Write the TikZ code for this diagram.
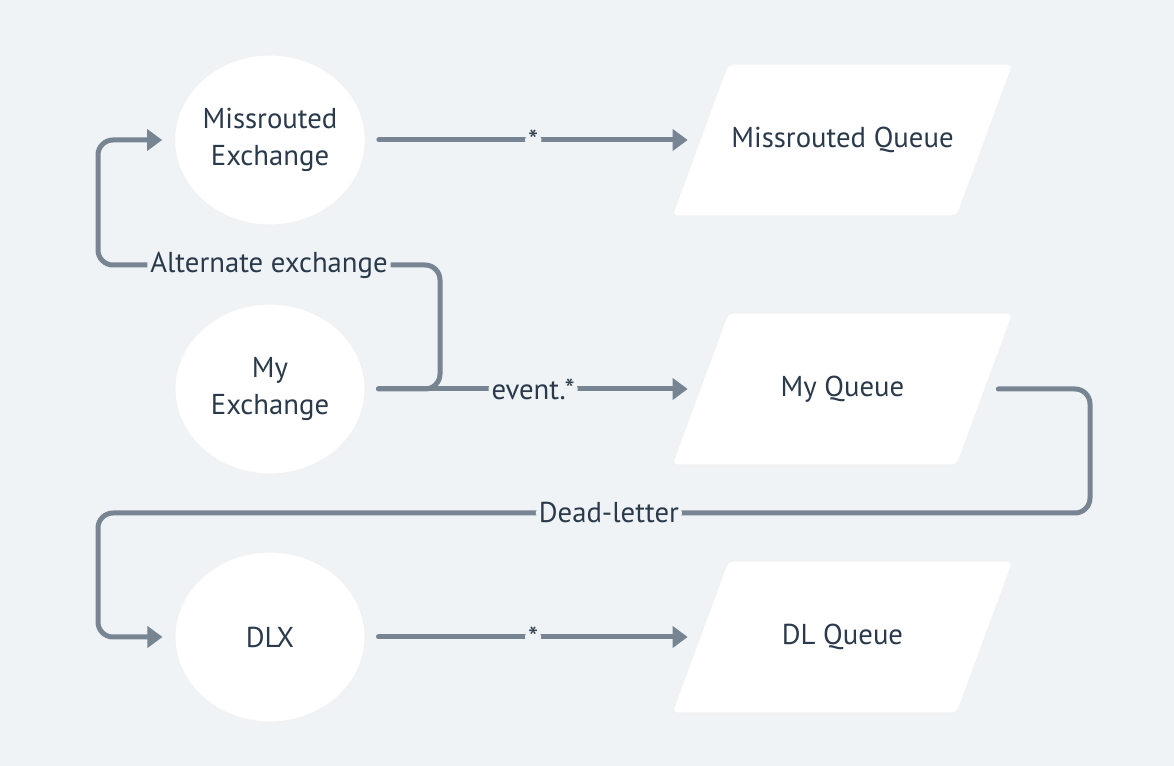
\documentclass[tikz,border=0pt]{standalone}
\usepackage{xcolor}
\usepackage{fontspec}
\setmainfont{PT Sans}
\usepackage{tikz}
\usetikzlibrary{shapes.geometric,arrows.meta}
\definecolor{bgcolor}{HTML}{EFF3F6}
\definecolor{linecolor}{HTML}{778593}
\definecolor{textcolor}{HTML}{2A3A4B}
\tikzset{%
exchange/.style={ellipse, fill=white, draw=black!5, line width=0.6pt, inner sep=0pt, minimum width=3.8cm, minimum height=3.4cm, align=center, text=textcolor, font=\fontsize{0.575cm}{0.75cm}\selectfont},%
queue/.style={rectangle, inner sep=0pt, minimum width=5.7cm, minimum height=3.04cm, text=textcolor, font=\fontsize{0.575cm}{0.75cm}\selectfont},%
queueshape/.style={fill=white, draw=black!5, line width=0.6pt, rounded corners=3pt},%
flow/.style={draw=linecolor, line width=0.1cm, line cap=round, rounded corners=0.3cm, -{Triangle[length=0.3cm, width=0.42cm]}},%
flowlabel/.style={fill=bgcolor, text=textcolor, inner sep=0.06cm, font=\fontsize{0.575cm}{0.6cm}\selectfont}%
}

\begin{document}
\begin{tikzpicture}[x=0.02cm, y=-0.02cm]%
\useasboundingbox[fill=bgcolor] (0,0) rectangle (1174,766);%
\node[exchange] (mex) at (270, 140) {Missrouted\\Exchange};%
\node[exchange] (myex) at (270, 389) {My\\Exchange};%
\node[exchange] (dlx) at (270, 637) {DLX};%
\foreach \y/\name/\txt in {140/mq/Missrouted Queue, 389/myq/My Queue, 637/dlq/DL Queue}{%
\fill[queueshape] (728, \y-76) -- (1013, \y-76) -- (957, \y+76) -- (672, \y+76) -- cycle;%
\node[queue] (\name) at (842.5, \y) {\txt};%
}%
\coordinate (altup) at (440, 265);%
\coordinate (altleft) at (98, 265);%
\coordinate (dlright) at (1090, 513);%
\coordinate (dlleft) at (98, 513);%
\draw[flow] ([xshift=0.26cm]myex.east) -| (altup) -- node[flowlabel]{Alternate exchange} (altleft) |- ([xshift=-0.24cm]mex.west);%
\draw[flow] ([xshift=0.26cm]myq.east) -| (dlright) -- node[flowlabel, pos=0.485]{Dead-letter} (dlleft) |- ([xshift=-0.24cm]dlx.west);%
\draw[flow] ([xshift=0.26cm]mex.east) -- node[flowlabel]{*} ([xshift=-0.24cm]mq.west);%
\draw[flow] ([xshift=0.26cm]myex.east) -- node[flowlabel]{event.*} ([xshift=-0.24cm]myq.west);%
\draw[flow] ([xshift=0.26cm]dlx.east) -- node[flowlabel]{*} ([xshift=-0.24cm]dlq.west);%
\end{tikzpicture}
\end{document}
